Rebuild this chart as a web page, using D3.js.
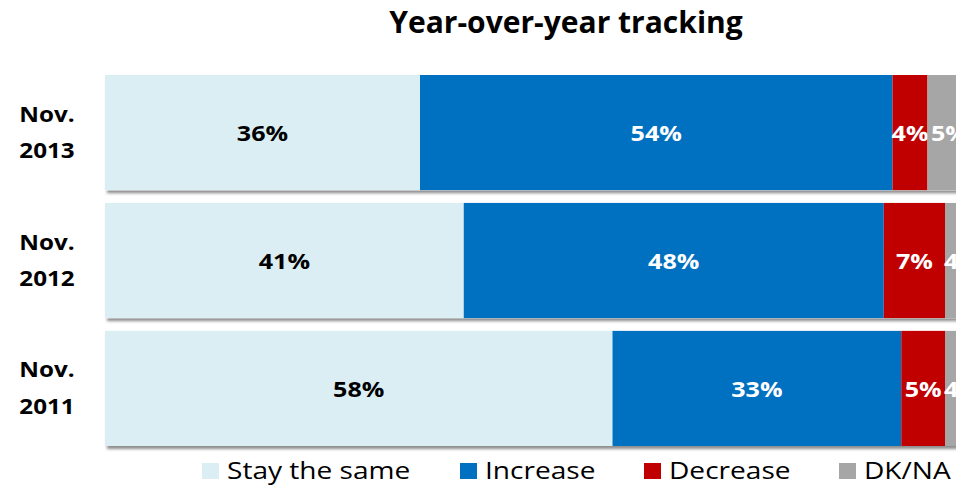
<!DOCTYPE html>
<html>
<head>
<meta charset="utf-8">
<script src="https://cdn.jsdelivr.net/npm/d3@7"></script>
<style>
  body { margin: 0; background: #fff; }
  svg { display: block; font-family: "Open Sans", Lato, sans-serif; }
</style>
</head>
<body>
<svg id="chart" width="956" height="487"></svg>
<script>
// values
const years = ["Nov. 2013", "Nov. 2012", "Nov. 2011"];
const seriesNames = ["Stay the same", "Increase", "Decrease", "DK/NA"];
const stayValues = [36, 41, 58];
const increaseValues = [54, 48, 33];
const decreaseValues = [4, 7, 5];
const dkValues = [5, 4, 4];

const colors = ["#DAEEF3", "#0070C0", "#C00000", "#A6A6A6"];
const labelColors = ["#000", "#fff", "#fff", "#fff"];

const width = 956, height = 487;
const svg = d3.select("#chart");
const stretch = 1.14; // the original font runs a bit wider

// build rows for stacking
const rows = years.map((y, i) => ({
  year: y,
  "Stay the same": stayValues[i],
  "Increase": increaseValues[i],
  "Decrease": decreaseValues[i],
  "DK/NA": dkValues[i]
}));

const stacked = d3.stack().keys(seriesNames)(rows);

const x = d3.scaleLinear().domain([0, 100]).range([105, 980]);
const y = d3.scaleBand().domain(years).range([75, 446]).paddingInner(0.1).paddingOuter(0);
const color = d3.scaleOrdinal().domain(seriesNames).range(colors);

// soft shadow under the bars
const defs = svg.append("defs");
const f = defs.append("filter").attr("id", "shadow")
  .attr("x", "-5%").attr("y", "-5%").attr("width", "110%").attr("height", "120%");
f.append("feDropShadow")
  .attr("dx", 2).attr("dy", 3).attr("stdDeviation", 1.5)
  .attr("flood-color", "#000").attr("flood-opacity", 0.45);

// title
svg.append("text")
  .attr("x", 566).attr("y", 33)
  .attr("text-anchor", "middle")
  .attr("font-size", 30).attr("font-weight", 700)
  .text("Year-over-year tracking");

// shadow layer (one rect per row)
svg.append("g")
  .selectAll("rect")
  .data(rows)
  .join("rect")
    .attr("x", x(0))
    .attr("y", d => y(d.year))
    .attr("width", d => x(d3.sum(seriesNames, k => d[k])) - x(0))
    .attr("height", y.bandwidth())
    .attr("fill", "#fff")
    .attr("filter", "url(#shadow)");

// bars
const layer = svg.append("g")
  .selectAll("g")
  .data(stacked)
  .join("g")
    .attr("fill", d => color(d.key));

layer.selectAll("rect")
  .data(d => d)
  .join("rect")
    .attr("x", d => x(d[0]))
    .attr("y", d => y(d.data.year))
    .attr("width", d => x(d[1]) - x(d[0]))
    .attr("height", y.bandwidth());

// value labels
layer.each(function(s, si) {
  d3.select(this).selectAll("text")
    .data(s)
    .join("text")
      .attr("transform", d => `translate(${(x(d[0]) + x(d[1])) / 2},${y(d.data.year) + y.bandwidth() / 2 + 8.5}) scale(${stretch},1)`)
      .attr("text-anchor", "middle")
      .attr("font-size", 22).attr("font-weight", 700)
      .attr("fill", labelColors[si])
      .text(d => (d[1] - d[0]) + "%");
});

// year labels, two lines
svg.append("g")
  .selectAll("text")
  .data(years)
  .join("text")
    .attr("text-anchor", "middle")
    .attr("font-size", 22).attr("font-weight", 700)
    .attr("fill", "#000")
    .attr("transform", d => `translate(47,${y(d) + y.bandwidth() / 2}) scale(1.1,1)`)
    .each(function(d) {
      const parts = d.split(" ");
      const t = d3.select(this);
      t.append("tspan").attr("x", 0).attr("y", -11).text(parts[0]);
      t.append("tspan").attr("x", 0).attr("y", 25.5).text(parts[1]);
    });

// legend
const legendX = [202, 460, 644, 839];
const legend = svg.append("g")
  .selectAll("g")
  .data(seriesNames)
  .join("g")
    .attr("transform", (d, i) => `translate(${legendX[i]},479)`);
legend.append("rect")
  .attr("x", 0).attr("y", -16)
  .attr("width", 17).attr("height", 16)
  .attr("fill", d => color(d));
legend.append("text")
  .attr("transform", "translate(25,0) scale(1.17,1)")
  .attr("font-size", 24)
  .attr("fill", "#000")
  .text(d => d);
</script>
</body>
</html>
